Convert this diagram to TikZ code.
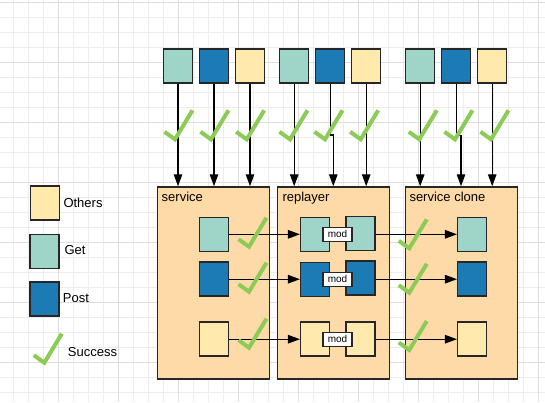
\documentclass[tikz,border=0pt]{standalone}
\usepackage{fontspec}
\setmainfont{Liberation Sans}
\usepackage{xcolor}
\usetikzlibrary{positioning, calc, arrows.meta}

\definecolor{getc}{HTML}{9ED5C8}
\definecolor{postc}{HTML}{1C7AB5}
\definecolor{othc}{HTML}{FFE9AC}
\definecolor{contc}{HTML}{FFDAA9}
\definecolor{okc}{HTML}{8DCB57}
\definecolor{edgec}{HTML}{262626}

\tikzset{
  box/.style={draw=edgec, line width=1.5pt, minimum width=29pt, minimum height=34pt, inner sep=0pt},
  cont/.style={draw=edgec, line width=1.5pt, fill=contc, inner sep=0pt},
  modbox/.style={draw=edgec, line width=1.2pt, fill=white, minimum width=29pt, minimum height=14pt, inner sep=0pt, font=\fontsize{10}{12}\selectfont},
  lbl/.style={anchor=base west, inner sep=0pt, font=\fontsize{13}{15}\selectfont},
  arr/.style={line width=1.2pt, -{Triangle[length=12pt,width=8.5pt]}},
  okmark/.style={draw=okc, line width=4pt, line join=miter},
  chk/.pic={\path[okmark] (-10.5,-7.5) -- (0,0) -- (17.5,-29);}
}

\begin{document}
\begin{tikzpicture}[x=1pt, y=-1pt]
			\useasboundingbox[fill=white] (0,0) rectangle (545,402);
			
			%% background grid
			\foreach \gx in {13.3,28.3,...,545} \draw[line width=1pt, black!7] (\gx,0) -- (\gx,402);
			\foreach \gy in {2.3,17.3,...,402} \draw[line width=1pt, black!7] (0,\gy) -- (545,\gy);
			\foreach \gx in {58.3,118.3,...,545} \draw[line width=1pt, black!13] (\gx,0) -- (\gx,402);
			\foreach \gy in {2.3,62.3,...,402} \draw[line width=1pt, black!13] (0,\gy) -- (545,\gy);
			
			%% containers
			\node[cont, minimum width=112pt, minimum height=192pt](svc) at (213.7,283) {};
			\node[cont, minimum width=112pt, minimum height=192pt](rep) at (333.7,283) {};
			\node[cont, minimum width=112pt, minimum height=192pt](cln) at (461.5,283) {};
			\node[lbl] at (161.5,201.5) {service};
			\node[lbl] at (282.3,201.5) {replayer};
			\node[lbl] at (409.3,201.5) {service clone};
			
			%% incoming requests
			\node[box, fill=getc](t1) at (178,66.2) {};
			\node[box, fill=postc](t2) at (214,66.2) {};
			\node[box, fill=othc](t3) at (250,66.2) {};
			\node[box, fill=getc](u1) at (294.2,66.2) {};
			\node[box, fill=postc](u2) at (330.2,66.2) {};
			\node[box, fill=othc](u3) at (366.2,66.2) {};
			\node[box, fill=getc](v1) at (420.2,66.2) {};
			\node[box, fill=postc](v2) at (456.2,66.2) {};
			\node[box, fill=othc](v3) at (492.2,66.2) {};
			
			\foreach \n/\c in {t1/svc, t2/svc, t3/svc, u1/rep, u3/rep, v1/cln, v3/cln}
				\draw[arr] (\n.south) -- (\n.south |- \c.north);
			\coordinate (ju) at (333.3,135);
			\coordinate (jv) at (461,135.7);
			\draw[arr] (u2.south) |- (ju) -- (ju |- rep.north);
			\draw[arr] (v2.south) |- (jv) -- (jv |- cln.north);
			
			%% boxes inside the containers
			\node[box, fill=getc](s1) at (214,234.3) {};
			\node[box, fill=postc](s2) at (214,279.2) {};
			\node[box, fill=othc](s3) at (214,339.2) {};
			
			\node[box, fill=getc](r1a) at (315.2,234.3) {};
			\node[box, fill=getc](r1b) at (360.3,233.3) {};
			\node[box, fill=postc](r2a) at (315.2,279.3) {};
			\node[box, fill=postc](r2b) at (360.3,278) {};
			\node[box, fill=othc](r3a) at (315.2,339.2) {};
			\node[box, fill=othc](r3b) at (360.3,339.2) {};
			\node[modbox](m1) at (337.5,234.3) {mod};
			\node[modbox](m2) at (337.5,279.2) {mod};
			\node[modbox](m3) at (337.5,339.2) {mod};
			
			\node[box, fill=getc](c1) at (472.2,234.3) {};
			\node[box, fill=postc](c2) at (472.2,279.2) {};
			\node[box, fill=othc](c3) at (472.2,339.2) {};
			
			\foreach \i in {1,2,3} {
				\draw[arr] (s\i.east) -- (r\i a.west |- s\i.east);
				\draw[arr] (r\i b.east |- c\i.west) -- (c\i.west);
			}
			
			%% success marks
			\foreach \x in {175,211,246.7,290,325,360.7,419.3,455,491} \pic at (\x,139.3) {chk};
			\foreach \y in {246.7,291.7,347.7} \pic at (249,\y) {chk};
			\foreach \y in {248.3,292.7,350} \pic at (409.3,\y) {chk};
			
			%% legend
			\node[box, fill=othc](l1) at (45.2,203.2) {};
			\node[box, fill=getc](l2) at (44.7,251.3) {};
			\node[box, fill=postc](l3) at (44.7,299.2) {};
			\pic at (44.3,362.7) {chk};
			\node[lbl] at (63.3,207.3) {Others};
			\node[lbl] at (64.3,254.7) {Get};
			\node[lbl] at (62.7,302) {Post};
			\node[lbl] at (67.7,356) {Success};
			
\end{tikzpicture}
\end{document}
